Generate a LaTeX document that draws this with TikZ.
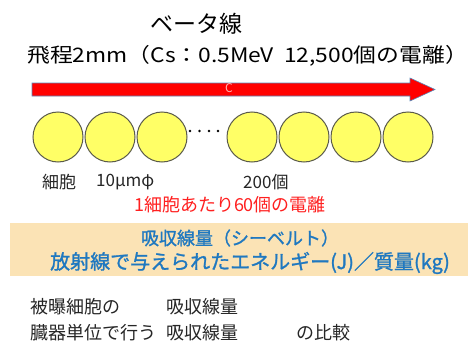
\documentclass[tikz,border=0pt]{standalone}
\usepackage{fontspec}
\setmainfont{Noto Sans CJK JP}
\newfontfamily\jp{Noto Sans CJK JP}
\newfontfamily\jpwide[FakeStretch=1.14]{Noto Sans CJK JP}
\newfontfamily\jpb[FakeBold=1.2]{Noto Sans CJK JP}
\definecolor{cellfill}{HTML}{FFFF66}
\definecolor{cellline}{HTML}{5A5A4A}
\definecolor{band}{HTML}{FBE3B5}
\definecolor{bluetxt}{HTML}{1F78C0}
\definecolor{arrowline}{HTML}{5B87B8}
\definecolor{pinktxt}{HTML}{FFB0B0}
\definecolor{redtxt}{HTML}{FF2020}
\tikzset{
  cell/.style={circle, draw=cellline, line width=1pt, fill=cellfill, minimum size=50pt, inner sep=0pt},
  txt/.style={inner sep=0pt, anchor=west, font=\jp\fontsize{18}{20}\selectfont, text=black!85},
  bluet/.style={inner sep=0pt, font=\jpb\fontsize{18}{20}\selectfont, text=bluetxt},
  dotmark/.style={fill=black, circle, inner sep=0pt, minimum size=2.6pt}
}
\begin{document}
\begin{tikzpicture}[x=1pt,y=-1pt]
\useasboundingbox (0,0) rectangle (468,345);
% title
\node[inner sep=0pt, font=\jp\fontsize{23}{25}\selectfont] (title) at (196,24) {ベータ線};
\node[inner sep=0pt, anchor=west, font=\jpwide\fontsize{20}{22}\selectfont] (range) at (27,56) {飛程2mm（Cs：0.5MeV\ \ 12,500個の電離）};
% arrow
\draw[fill=red, draw=arrowline, line width=0.6pt] (32,83) -- (410,83) -- (410,78) -- (435,89.5) -- (410,101) -- (410,96) -- (32,96) -- cycle;
\node[inner sep=0pt, font=\jp\fontsize{12}{13}\selectfont, text=pinktxt] (c) at (229,88.5) {C};
% cells
\node[cell] (c1) at (58,137) {};
\node[cell] (c2) at (110,137) {};
\node[cell] (c3) at (162,137) {};
\node[cell] (c4) at (252,137) {};
\node[cell] (c5) at (304,137) {};
\node[cell] (c6) at (356,137) {};
\node[cell] (c7) at (408,137) {};
\node[dotmark] (d1) at (190,131) {};
\node[dotmark] (d2) at (199.5,131) {};
\node[dotmark] (d3) at (209,131) {};
\node[dotmark] (d4) at (218,131) {};
% labels
\node[txt, font=\jp\fontsize{17}{19}\selectfont] (l1) at (42,182) {細胞};
\node[txt, font=\jp\fontsize{17}{19}\selectfont] (l2) at (96,182) {10μmφ};
\node[txt, font=\jp\fontsize{17}{19}\selectfont] (l3) at (243,182) {200個};
\node[inner sep=0pt, font=\jp\fontsize{18}{20}\selectfont, text=redtxt] (red) at (230,205) {1細胞あたり60個の電離};
% band
\fill[band] (10,223) rectangle (468,276);
\node[bluet] (b1) at (240,238) {吸収線量（シーベルト）};
\node[bluet, anchor=west, font=\jpb\fontsize{20}{22}\selectfont] (b2) at (50,263) {放射線で与えられたエネルギー(J)／質量(kg)};
% bottom
\node[txt] (t1) at (30,307) {被曝細胞の};
\node[txt] (t2) at (166,307) {吸収線量};
\node[txt] (t3) at (30,333) {臓器単位で行う};
\node[txt] (t4) at (166,333) {吸収線量};
\node[txt] (t5) at (296,333) {の比較};
\end{tikzpicture}
\end{document}
